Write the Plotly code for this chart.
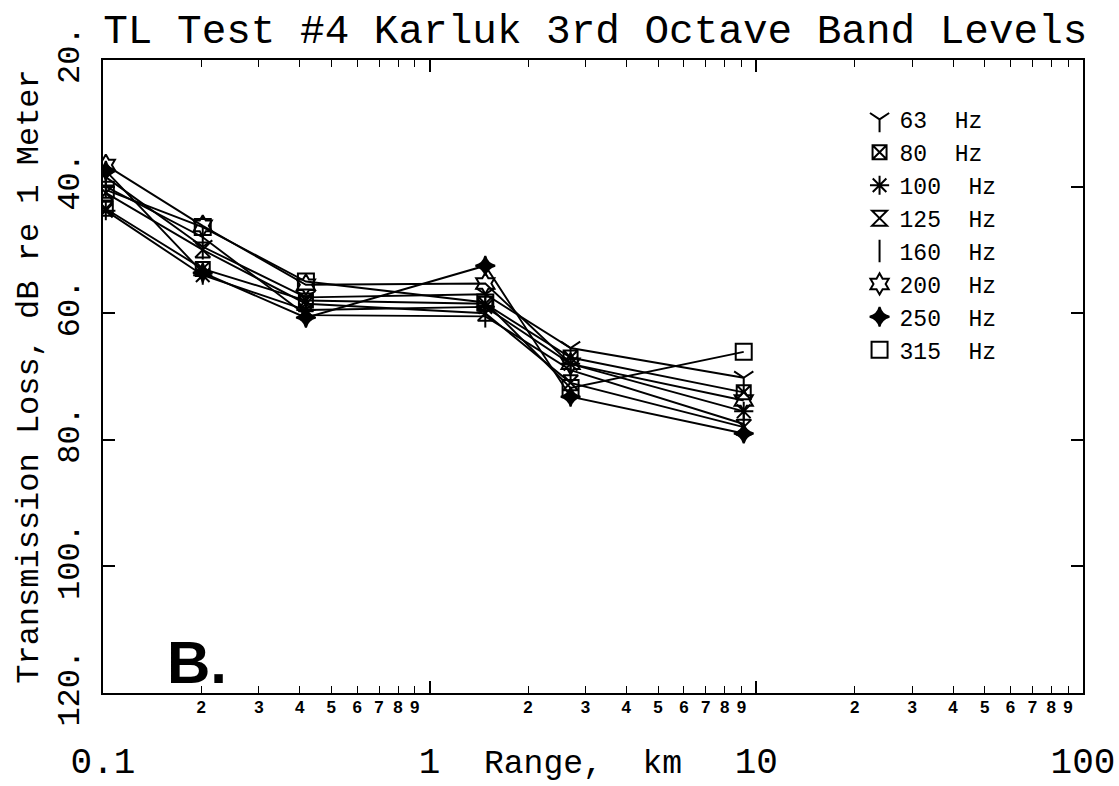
import plotly.graph_objects as go

# Range to each measurement station (km)
range_km = [0.102, 0.202, 0.418, 1.48, 2.70, 9.15]

# Transmission loss (dB re 1 m) per third-octave band
tl_63 = [38.5, 49.5, 57.5, 57.0, 65.5, 70.2]
tl_80 = [43.5, 53.0, 58.0, 58.5, 67.0, 72.5]
tl_100 = [43.8, 54.0, 59.5, 59.0, 68.0, 75.5]
tl_125 = [41.0, 50.0, 58.5, 60.0, 71.0, 78.0]
tl_160 = [40.0, 48.0, 60.3, 60.5, 69.0, 77.5]
tl_200 = [36.6, 46.2, 55.5, 55.3, 68.0, 73.8]
tl_250 = [37.5, 53.6, 60.7, 52.5, 73.2, 79.0]
tl_315 = [40.5, 46.4, 55.0, 58.3, 71.8, 66.1]

bands = ["63", "80", "100", "125", "160", "200", "250", "315"]
series = [tl_63, tl_80, tl_100, tl_125, tl_160, tl_200, tl_250, tl_315]
symbols = ["y-down-open", "square-x-open", "asterisk-open", "hourglass-open",
           "line-ns-open", "hexagram-open", "star-diamond", "square-open"]
sizes = [16, 14, 16, 15, 16, 16, 14, 16]

major_ticks = [0.1, 1, 10, 100]
major_text = ["0.1", "1", "10", "100"]
minor_ticks = [m * d for d in (0.1, 1, 10) for m in range(2, 10)]
minor_text = [str(m) for d in (0.1, 1, 10) for m in range(2, 10)]

y_ticks = [20, 40, 60, 80, 100, 120]
y_text = ["20.", "40.", "60.", "80.", "100.", "120."]

FONT = "Liberation Mono"
NB = "\u00a0"
fig = go.Figure()

for band, vals, sym, sz in zip(bands, series, symbols, sizes):
    fig.add_trace(go.Scatter(
        x=range_km, y=vals, mode="lines+markers", showlegend=False,
        line=dict(color="black", width=1.9),
        marker=dict(symbol=sym, size=sz, color="black",
                    line=dict(color="black", width=2)),
    ))
    # legend entry shows the symbol only
    fig.add_trace(go.Scatter(
        x=[None], y=[None], mode="markers", name=band + NB + NB + "Hz",
        marker=dict(symbol=sym, size=sz, color="black",
                    line=dict(color="black", width=2)),
    ))

# carrier for the minor-label axis
fig.add_trace(go.Scatter(x=[None], y=[None], xaxis="x2", showlegend=False,
                         hoverinfo="skip"))

fig.add_annotation(text="<b>B.</b>", x=0.096, y=0.048, xref="paper",
                   yref="paper", showarrow=False, xanchor="center",
                   yanchor="middle",
                   font=dict(family="Liberation Sans", size=60, color="black"))

fig.add_annotation(text="Range," + NB + NB + "km", x=0.49, y=-0.113,
                   xref="paper", yref="paper", showarrow=False,
                   xanchor="center", yanchor="middle",
                   font=dict(family=FONT, size=33, color="black"))

fig.update_layout(
    width=1119, height=786,
    margin=dict(l=103, r=36, t=60, b=93),
    paper_bgcolor="white", plot_bgcolor="white",
    title=dict(text="TL Test #4 Karluk 3rd Octave Band Levels",
               x=0.532, xanchor="center", y=0.963, yanchor="middle",
               font=dict(family=FONT, size=41, color="black")),
    xaxis=dict(type="log", range=[-1, 2], automargin=False,
               tickvals=major_ticks, ticktext=major_text,
               ticks="inside", ticklen=12, tickwidth=1.5, tickcolor="black",
               minor=dict(tickvals=minor_ticks, ticks="inside", ticklen=7,
                          tickwidth=1.2, tickcolor="black"),
               showline=True, linecolor="black", linewidth=2, mirror="ticks",
               showgrid=False, zeroline=False, ticklabelstandoff=35,
               tickfont=dict(family=FONT, size=36, color="black")),
    xaxis2=dict(type="log", range=[-1, 2], overlaying="x", side="bottom",
                automargin=False,
                tickvals=minor_ticks, ticktext=minor_text, ticks="",
                showline=False, showgrid=False, zeroline=False,
                ticklabelstandoff=2,
                tickfont=dict(family="Liberation Sans", size=17, color="black",
                              weight="bold")),
    yaxis=dict(range=[120, 20], tickvals=y_ticks, ticktext=y_text,
               automargin=False, ticklabelstandoff=9,
               tickangle=-90, ticks="inside", ticklen=12, tickwidth=1.5,
               tickcolor="black", showline=True, linecolor="black",
               linewidth=2, mirror="ticks", showgrid=False, zeroline=False,
               tickfont=dict(family=FONT, size=32, color="black"),
               title=dict(text="Transmission Loss, dB re 1 Meter", standoff=4,
                          font=dict(family=FONT, size=32, color="black"))),
    legend=dict(x=0.772, y=0.94, xanchor="left", yanchor="top",
                bgcolor="rgba(0,0,0,0)", itemwidth=30,
                font=dict(family=FONT, size=23, color="black")),
)

fig.write_html("out.html")
